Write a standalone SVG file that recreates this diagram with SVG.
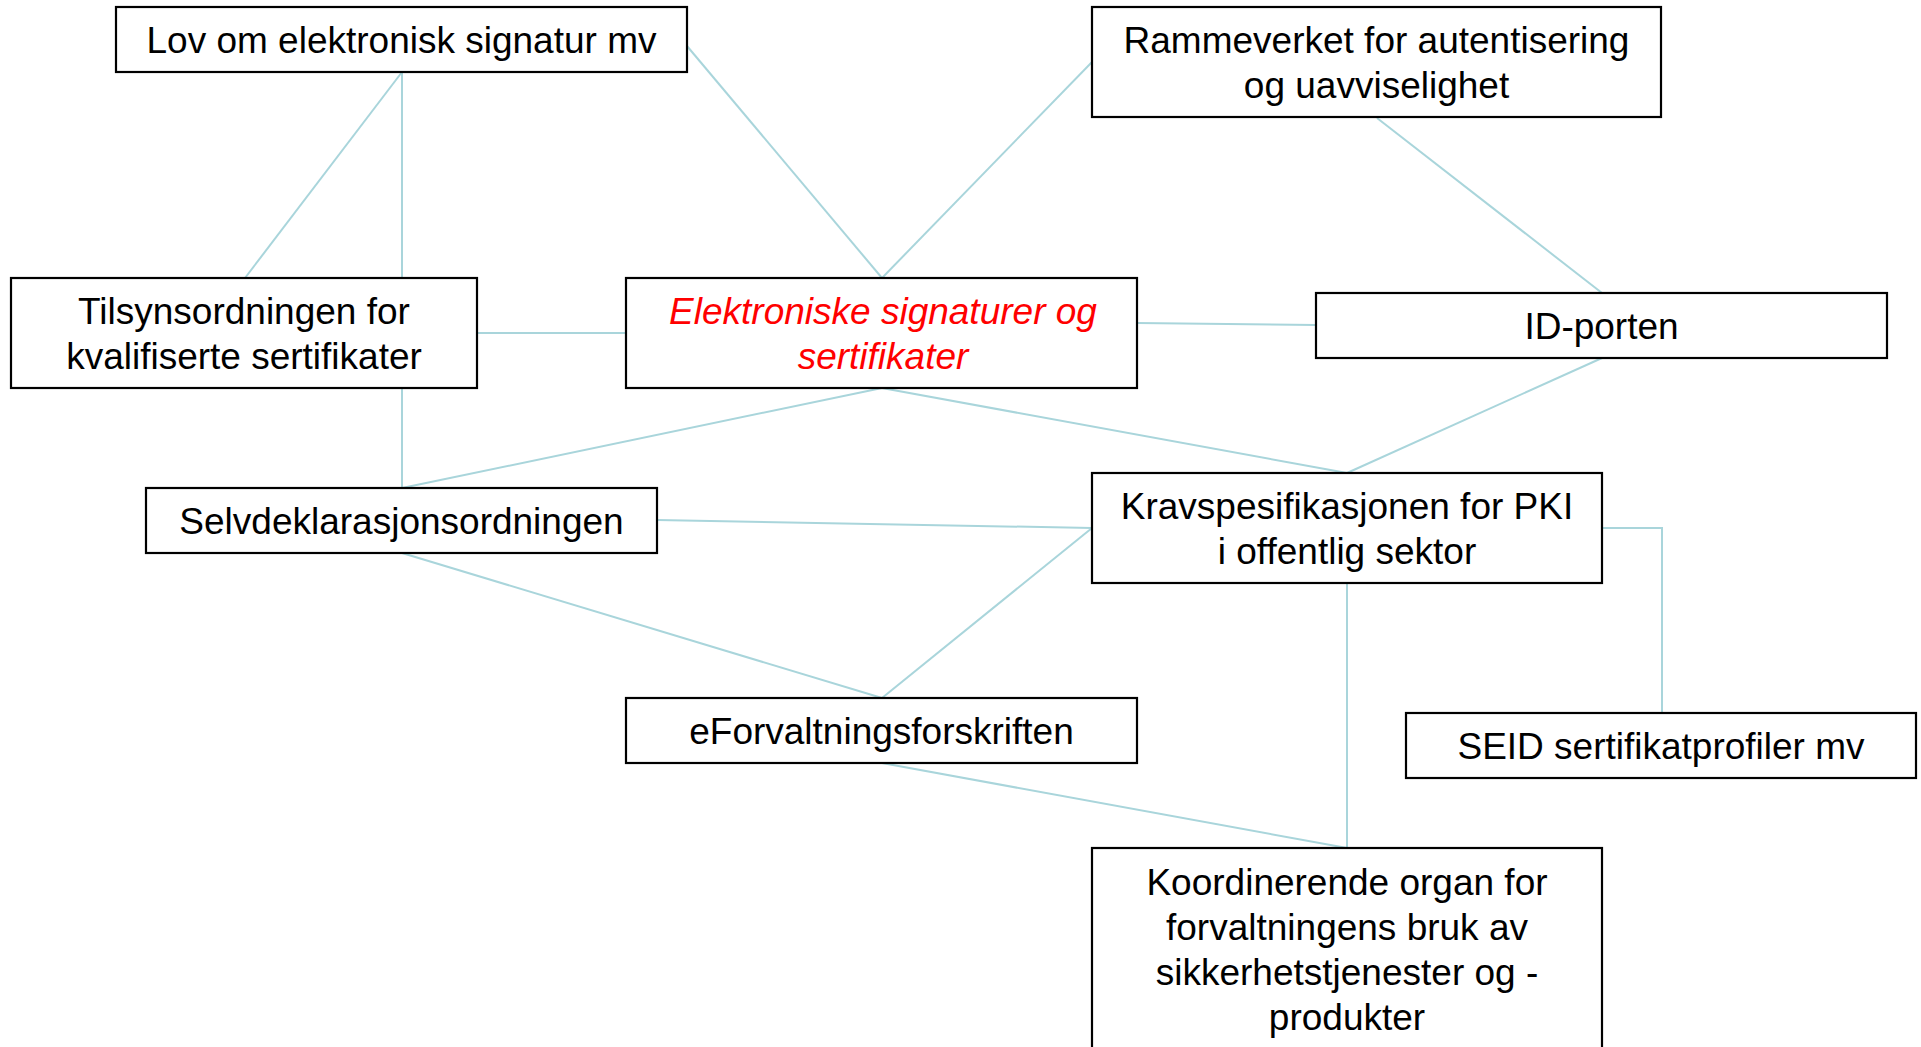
<svg xmlns="http://www.w3.org/2000/svg" width="1921" height="1047" viewBox="0 0 1921 1047">
<style>
.bg{fill:#ffffff}
.box{fill:#ffffff;stroke:#000000;stroke-width:2.2}
.t{font-family:"Liberation Sans",Arial,sans-serif;font-size:37px;fill:#000000;text-anchor:middle}
.red{fill:#ff0000;font-style:italic}
.c{stroke:#a9d5db;stroke-width:2;fill:none}
</style>
<rect class="bg" x="0" y="0" width="1921" height="1047"/>
<g id="connectors">
<line class="c" x1="402" y1="72" x2="245" y2="278"/>
<line class="c" x1="402" y1="72" x2="402" y2="488"/>
<line class="c" x1="687" y1="46" x2="882" y2="278"/>
<line class="c" x1="1092" y1="62" x2="882" y2="278"/>
<line class="c" x1="1377" y1="118" x2="1602" y2="293"/>
<line class="c" x1="477" y1="333" x2="626" y2="333"/>
<line class="c" x1="1137" y1="323" x2="1316" y2="325"/>
<line class="c" x1="882" y1="388" x2="402" y2="488"/>
<line class="c" x1="882" y1="388" x2="1347" y2="473"/>
<line class="c" x1="1602" y1="358" x2="1347" y2="473"/>
<line class="c" x1="657" y1="520" x2="1092" y2="528"/>
<line class="c" x1="402" y1="553" x2="882" y2="698"/>
<line class="c" x1="1092" y1="528" x2="882" y2="698"/>
<polyline class="c" points="1602,528 1662,528 1662,713"/>
<line class="c" x1="1347" y1="583" x2="1347" y2="848"/>
<line class="c" x1="882" y1="763" x2="1347" y2="848"/>
</g>
<g id="lov">
<rect class="box" x="116" y="7" width="571" height="65"/>
<text class="t" x="401.5" y="53">Lov om elektronisk signatur mv</text>
</g>
<g id="rammeverket">
<rect class="box" x="1092" y="7" width="569" height="110"/>
<text class="t" x="1376.5" y="53">Rammeverket for autentisering</text>
<text class="t" x="1376.5" y="98">og uavviselighet</text>
</g>
<g id="tilsyn">
<rect class="box" x="11" y="278" width="466" height="110"/>
<text class="t" x="244" y="324">Tilsynsordningen for</text>
<text class="t" x="244" y="369">kvalifiserte sertifikater</text>
</g>
<g id="elektroniske">
<rect class="box" x="626" y="278" width="511" height="110"/>
<text class="t red" x="883" y="324">Elektroniske signaturer og</text>
<text class="t red" x="883" y="369">sertifikater</text>
</g>
<g id="idporten">
<rect class="box" x="1316" y="293" width="571" height="65"/>
<text class="t" x="1601.5" y="339">ID-porten</text>
</g>
<g id="selvdeklarasjon">
<rect class="box" x="146" y="488" width="511" height="65"/>
<text class="t" x="401.5" y="534">Selvdeklarasjonsordningen</text>
</g>
<g id="kravspesifikasjon">
<rect class="box" x="1092" y="473" width="510" height="110"/>
<text class="t" x="1347" y="519">Kravspesifikasjonen for PKI</text>
<text class="t" x="1347" y="564">i offentlig sektor</text>
</g>
<g id="eforvaltning">
<rect class="box" x="626" y="698" width="511" height="65"/>
<text class="t" x="881.5" y="744">eForvaltningsforskriften</text>
</g>
<g id="seid">
<rect class="box" x="1406" y="713" width="510" height="65"/>
<text class="t" x="1661" y="759">SEID sertifikatprofiler mv</text>
</g>
<g id="koordinerende">
<rect class="box" x="1092" y="848" width="510" height="230"/>
<text class="t" x="1347" y="895">Koordinerende organ for</text>
<text class="t" x="1347" y="940">forvaltningens bruk av</text>
<text class="t" x="1347" y="985">sikkerhetstjenester og -</text>
<text class="t" x="1347" y="1030">produkter</text>
</g>
</svg>
